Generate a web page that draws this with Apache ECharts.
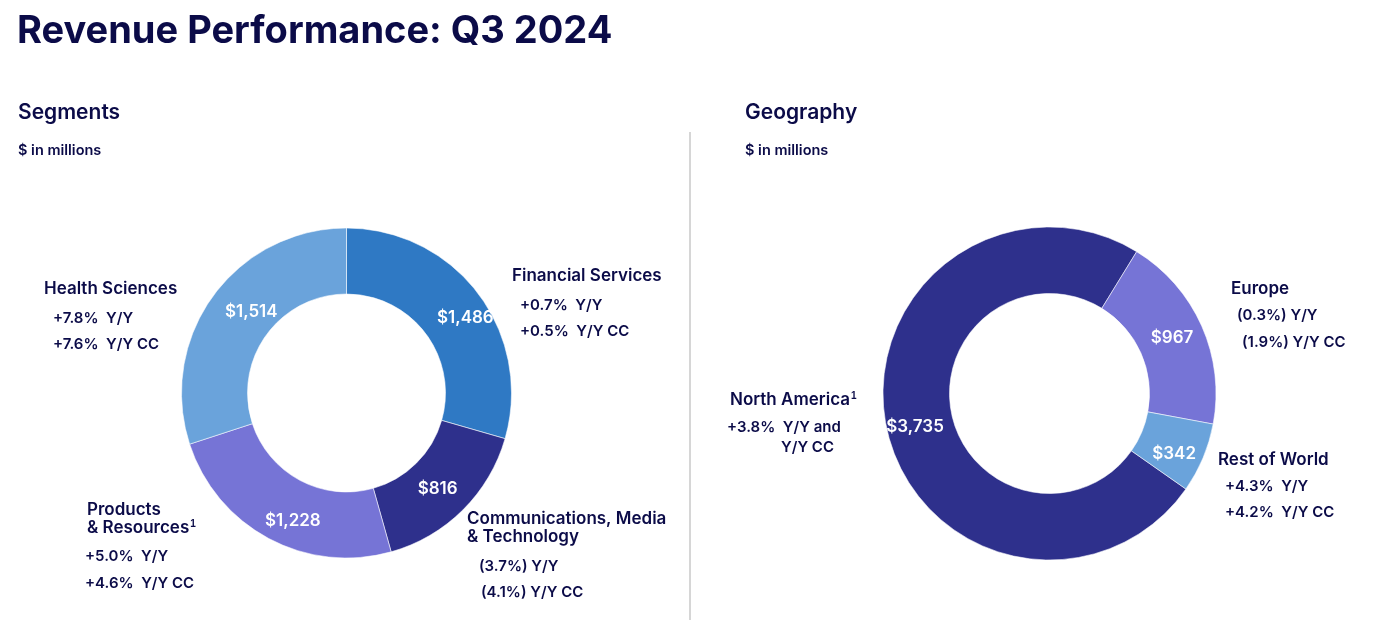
<!DOCTYPE html>
<html>
<head>
<meta charset="utf-8">
<script src="https://cdn.jsdelivr.net/npm/echarts@6/dist/echarts.min.js"></script>
<style>
  html, body { margin: 0; padding: 0; background: #fff; }
  #revenue { width: 1379px; height: 620px; }
</style>
</head>
<body>
<div id="revenue"></div>
<script>
// segment data ($ in millions)
const segNames = ['Financial Services', 'Communications, Media & Technology', 'Products & Resources', 'Health Sciences']
const segValues = [1486, 816, 1228, 1514]
const segYoY = ['+0.7%  Y/Y', '(3.7%) Y/Y', '+5.0%  Y/Y', '+7.8%  Y/Y']
const segYoYCC = ['+0.5%  Y/Y CC', '(4.1%) Y/Y CC', '+4.6%  Y/Y CC', '+7.6%  Y/Y CC']

// geography data ($ in millions)
const geoNames = ['North America', 'Europe', 'Rest of World']
const geoValues = [3735, 967, 342]
const geoYoY = ['+3.8%  Y/Y and', '(0.3%) Y/Y', '+4.3%  Y/Y']
const geoYoYCC = ['Y/Y CC', '(1.9%) Y/Y CC', '+4.2%  Y/Y CC']

const segColors = ['#2f79c4', '#2e308c', '#7674d6', '#6aa3db']
const geoColors = ['#2e308c', '#7674d6', '#6aa3db']
// small nudges so the value labels sit where the slide has them
const segNudge = [[11, 6], [-4, 0], [10, 9], [14, -2]]
const geoNudge = [[-1, 6], [-2, 0], [-1, 8]]

const navy = '#0b0b48'
const FONT = 'Inter, "Noto Sans", sans-serif'

const chartDom = document.getElementById('revenue')
const myChart = echarts.init(chartDom, null, { renderer: 'canvas' })

function money(p) {
  return '$' + p.value.toLocaleString('en-US')
}

function pieData(names, values, colors, nudge) {
  return names.map((n, i) => ({
    name: n,
    value: values[i],
    itemStyle: { color: colors[i] },
    label: { offset: nudge[i] }
  }))
}

function txt(x, y, text, size, weight, extra) {
  return {
    type: 'text',
    x: x,
    y: y,
    silent: true,
    style: Object.assign({
      text: text,
      fill: navy,
      fontFamily: FONT,
      fontSize: size,
      fontWeight: weight,
      align: 'left',
      verticalAlign: 'middle',
      textAlign: 'left',
      textVerticalAlign: 'middle'
    }, extra || {})
  }
}

const sup = { rich: { s: { fontSize: 10, fontWeight: 600, fill: navy, verticalAlign: 'top', padding: [0, 0, 8, 1] } } }

const graphics = [
  txt(17, 32, 'Revenue Performance: Q3 2024', 38, 700),
  txt(18, 113, 'Segments', 21, 600),
  txt(18, 151, '$ in millions', 14.5, 600),
  txt(745, 113, 'Geography', 21, 600),
  txt(745, 151, '$ in millions', 14.5, 600),
  { type: 'rect', silent: true, shape: { x: 689, y: 132, width: 2, height: 488 }, style: { fill: '#d6d6d6' } },

  // Health Sciences
  txt(44, 289, segNames[3], 17, 600),
  txt(53, 318, segYoY[3], 15, 600),
  txt(53, 344, segYoYCC[3], 15, 600),
  // Financial Services
  txt(512, 276, segNames[0], 17, 600),
  txt(520, 305, segYoY[0], 15, 600),
  txt(520, 331, segYoYCC[0], 15, 600),
  // Products & Resources
  txt(87, 510, 'Products', 17, 600),
  txt(87, 528, '& Resources{s|1}', 17, 600, sup),
  txt(85, 556, segYoY[2], 15, 600),
  txt(85, 583, segYoYCC[2], 15, 600),
  // Communications, Media & Technology
  txt(467, 519, 'Communications, Media', 17, 600),
  txt(467, 537, '& Technology', 17, 600),
  txt(479, 566, segYoY[1], 15, 600),
  txt(481, 592, segYoYCC[1], 15, 600),

  // North America
  txt(730, 400, geoNames[0] + '{s|1}', 17, 600, sup),
  txt(727, 427, geoYoY[0], 15, 600),
  txt(781, 447, geoYoYCC[0], 15, 600),
  // Europe
  txt(1231, 289, geoNames[1], 17, 600),
  txt(1237, 315, geoYoY[1], 15, 600),
  txt(1242, 342, geoYoYCC[1], 15, 600),
  // Rest of World
  txt(1218, 460, geoNames[2], 17, 600),
  txt(1225, 486, geoYoY[2], 15, 600),
  txt(1225, 512, geoYoYCC[2], 15, 600)
]

const labelStyle = {
  show: true,
  position: 'inside',
  formatter: money,
  color: '#fff',
  fontFamily: FONT,
  fontSize: 17,
  fontWeight: 600
}

const option = {
  animation: false,
  backgroundColor: '#fff',
  graphic: graphics,
  series: [
    {
      name: 'Segments',
      type: 'pie',
      center: [346.5, 393],
      radius: [99, 165],
      startAngle: 90,
      clockwise: true,
      silent: true,
      itemStyle: { borderColor: 'rgba(255,255,255,0.55)', borderWidth: 1 },
      label: labelStyle,
      labelLine: { show: false },
      data: pieData(segNames, segValues, segColors, segNudge)
    },
    {
      name: 'Geography',
      type: 'pie',
      center: [1049.5, 393.5],
      radius: [100, 166.5],
      startAngle: 325,
      clockwise: true,
      silent: true,
      itemStyle: { borderColor: 'rgba(255,255,255,0.55)', borderWidth: 1 },
      label: labelStyle,
      labelLine: { show: false },
      data: pieData(geoNames, geoValues, geoColors, geoNudge)
    }
  ]
}

option && myChart.setOption(option)
window.addEventListener('resize', function () {
  myChart.resize()
})
</script>
</body>
</html>
